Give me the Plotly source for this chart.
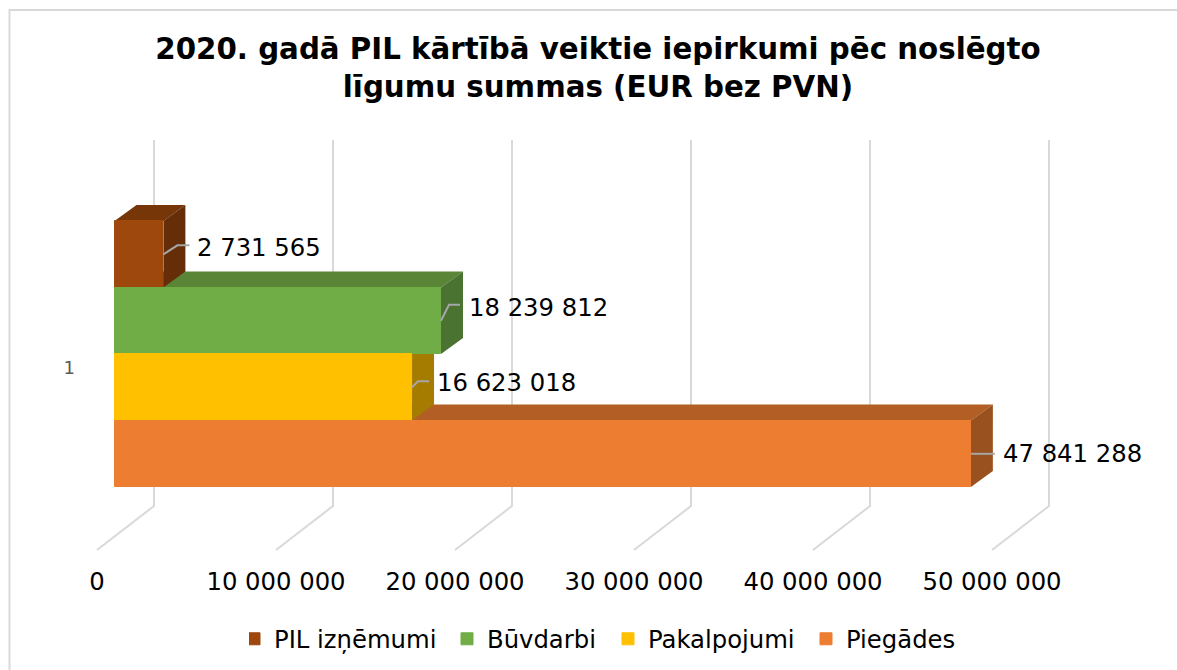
import plotly.graph_objects as go

# --- data ---
categories = ["PIL izņēmumi", "Būvdarbi", "Pakalpojumi", "Piegādes"]
values = [2731565, 18239812, 16623018, 47841288]
x_ticks = [0, 10000000, 20000000, 30000000, 40000000, 50000000]
x_tick_labels = ["0", "10 000 000", "20 000 000", "30 000 000", "40 000 000", "50 000 000"]
group_labels = ["1"]
rows = [3, 2, 1, 0]
title = "<b>2020. gadā PIL kārtībā veiktie iepirkumi pēc noslēgto<br>līgumu summas (EUR bez PVN)</b>"

# --- styles ---
front = ["#9E480E", "#70AD47", "#FFC000", "#ED7D31"]
top_face = ["#773608", "#5A8536", "#C09000", "#B25E25"]
side_face = ["#652E09", "#4A7230", "#A67C00", "#9A5120"]
legend_widths = [183, 131, 168, 110]
FONT = "DejaVu Sans"
W, H = 1177, 670
PX_X = 1e6 / 17.9       # data units per pixel, x
PX_Y = 1 / 66.5         # data units per pixel, y
ORIGIN_X, ORIGIN_Y = 114.5, 453.8
DEPTH = (22 * PX_X, 16 * PX_Y)
GRID = "#D9D9D9"
LEADER = "#A6A6A6"


def yd(py):
    return (ORIGIN_Y - py) * PX_Y


x_range = [-ORIGIN_X * PX_X, (W - ORIGIN_X) * PX_X]
y_range = [yd(H), yd(0)]


def poly(pts, color):
    path = "M" + " L".join(f"{a},{b}" for a, b in pts) + " Z"
    return dict(type="path", path=path, xref="x", yref="y", fillcolor=color,
                line=dict(width=0), layer="below")


shapes = [dict(type="rect", xref="paper", yref="paper", x0=9.5 / W, x1=1.01,
               y0=-0.01, y1=1 - 10 / H, line=dict(color=GRID, width=2), layer="below")]

# wall and floor gridlines
for t in x_ticks:
    back = t + 39.5 * PX_X
    fr = t - 17.5 * PX_X
    path = f"M{back},{yd(140)} L{back},{yd(506)} L{fr},{yd(550)}"
    shapes.append(dict(type="path", path=path, xref="x", yref="y",
                       line=dict(color=GRID, width=2), layer="below"))

# depth faces, painted from the bottom row upward
for i in sorted(range(len(rows)), key=lambda k: rows[k]):
    v, r = values[i], rows[i]
    dx, dy = DEPTH
    shapes.append(poly([(0, r + .5), (dx, r + .5 + dy), (v + dx, r + .5 + dy), (v, r + .5)], top_face[i]))
    shapes.append(poly([(v, r - .5), (v + dx, r - .5 + dy), (v + dx, r + .5 + dy), (v, r + .5)], side_face[i]))

fig = go.Figure()
for i, c in enumerate(categories):
    fig.add_trace(go.Bar(y=[rows[i]], x=[values[i]], orientation="h", width=1, name=c,
                         legendwidth=legend_widths[i],
                         marker=dict(color=front[i], line=dict(width=1, color=front[i])),
                         hoverinfo="x+name"))

# leader lines (pixel offsets from each bar end)
lead_dx = [[0, 14, 26], [0, 8, 19], [0, 6, 17], [0, 24]]
lead_dy = [[0, -9, -9], [0, -16, -16], [0, -6, -6], [0, 0]]
for i in range(len(values)):
    fig.add_trace(go.Scatter(
        x=[values[i] + d * PX_X for d in lead_dx[i]],
        y=[rows[i] + (-d * PX_Y) for d in lead_dy[i]],
        mode="lines", line=dict(color=LEADER, width=2), showlegend=False, hoverinfo="skip"))

# carrier for the tick axis, which sits under the floor lines
fig.add_trace(go.Scatter(x=x_ticks, y=[rows[0]] * len(x_ticks), xaxis="x2", mode="markers",
                         marker=dict(opacity=0), showlegend=False, hoverinfo="skip"))

label_dx = [32, 26.5, 23, 30]
label_dy = [7, 13.5, 5, 0]
annotations = [dict(x=values[i], y=rows[i], xref="x", yref="y", xanchor="left", yanchor="middle",
                    xshift=label_dx[i], yshift=label_dy[i], showarrow=False,
                    text=f"{values[i]:,}".replace(",", " "),
                    font=dict(family=FONT, size=24.3, color="#000000"))
               for i in range(len(values))]

fig.update_layout(
    width=W, height=H, autosize=False,
    margin=dict(l=0, r=0, t=0, b=0),
    paper_bgcolor="#FFFFFF", plot_bgcolor="rgba(0,0,0,0)",
    barmode="overlay", bargap=0,
    title=dict(text=title, x=598 / W, y=1 - 59 / H, xanchor="center", yanchor="middle",
               font=dict(family=FONT, size=29.3, color="#000000")),
    shapes=shapes, annotations=annotations,
    xaxis=dict(range=x_range, visible=False, domain=[0, 1]),
    xaxis2=dict(overlaying="x", anchor="free", position=1 - 565 / H,
                range=[-97 * PX_X, (W - 97) * PX_X],
                tickvals=x_ticks, ticktext=x_tick_labels, ticks="",
                showgrid=False, zeroline=False, showline=False, side="bottom",
                tickfont=dict(family=FONT, size=24.3, color="#000000")),
    yaxis=dict(range=y_range, anchor="free", position=75 / W,
               tickvals=[yd(368)], ticktext=group_labels, ticks="",
               showgrid=False, zeroline=False, showline=False,
               tickfont=dict(family=FONT, size=18, color="#595959")),
    legend=dict(orientation="h", x=249 / W, y=1 - 639 / H, xanchor="left", yanchor="middle",
                itemwidth=30, indentation=-15, bgcolor="rgba(0,0,0,0)", traceorder="normal",
                font=dict(family=FONT, size=24.3, color="#000000")),
    showlegend=True,
)
fig.write_html("out.html", post_script="document.body.style.margin='0';",
               config={"displayModeBar": False})
